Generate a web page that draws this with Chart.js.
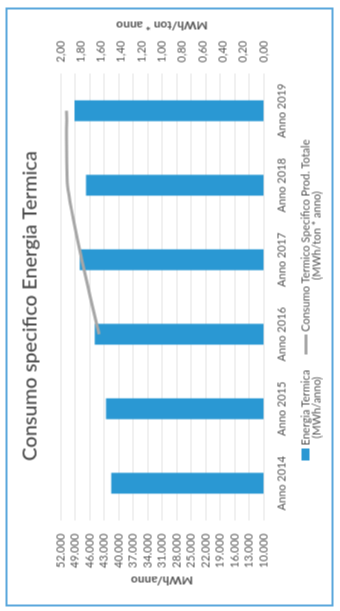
<!DOCTYPE html>
<html lang="it">
<head>
<meta charset="utf-8">
<title>Consumo specifico Energia Termica</title>
<script src="https://cdn.jsdelivr.net/npm/chart.js@4.4.0/dist/chart.umd.min.js"></script>
<style>
  html, body { margin: 0; padding: 0; background: #fff; }
  body { width: 340px; height: 611px; overflow: hidden; position: relative; }
  /* the sheet is laid out landscape and turned a quarter left */
  #sheet {
    position: absolute;
    left: -135.5px;
    top: 135.5px;
    width: 611px;
    height: 340px;
    transform: rotate(-90deg);
    font-family: Lato, sans-serif;
    color: #555;
  }
  #frame {
    position: absolute;
    left: 5px;
    top: 5px;
    width: 595px;
    height: 324px;
    border: 2px solid #5aa7dc;
  }
  #chartEnergia { position: absolute; left: 0; top: 0; }
  #legend {
    position: absolute;
    left: 6px;
    top: 300px;
    width: 611px;
    display: flex;
    justify-content: center;
    gap: 15px;
    font-size: 11px;
    line-height: 10.5px;
  }
  .item { display: flex; align-items: flex-start; }
  .item .txt { text-align: center; margin-left: 3px; }
  .box { width: 12px; height: 8px; margin-top: 1px; background: #2a98d3; }
  .stroke { width: 20px; height: 3px; margin-top: 4px; background: #a6a6a6; }
</style>
</head>
<body>
<div id="sheet">
  <div id="frame"></div>
  <canvas id="chartEnergia" width="611" height="300"></canvas>
  <div id="legend"></div>
</div>
<script>
const anni = ['Anno 2014', 'Anno 2015', 'Anno 2016', 'Anno 2017', 'Anno 2018', 'Anno 2019']
const energiaTermica = [41500, 42600, 44900, 48000, 46700, 49100]
const consumoSpecifico = [null, null, 1.62, 1.79, 1.93, 1.94]

const legendaEnergia = ['Energia Termica', '(MWh/anno)']
const legendaConsumo = ['Consumo Termico Specifico Prod. Totale', '(MWh/ton * anno)']

const energiaMin = 10000
const energiaMax = 52000
const energiaStep = 3000
const consumoMin = 0
const consumoMax = 2
const consumoStep = 0.2

const testo = '#555555'
const font = 'Lato'

/**
 * Format a number with a dot as thousands separator.
 *
 * @param {number} value - The value to format.
 * @returns {string} The formatted value.
 */
function migliaia (value) {
  return String(Math.round(value)).replace(/\B(?=(\d{3})+(?!\d))/g, '.')
}

// Chart.js turns right-side titles the other way, so this one is drawn here
const titoloDestro = {
  id: 'titoloDestro',
  afterDraw (chart) {
    const opts = chart.options.scales.y1.title
    const area = chart.chartArea
    const ctx = chart.ctx
    ctx.save()
    ctx.translate(586, (area.top + area.bottom) / 2)
    ctx.rotate(-Math.PI / 2)
    ctx.font = `bold ${opts.font.size}px ${font}`
    ctx.fillStyle = testo
    ctx.textAlign = 'center'
    ctx.textBaseline = 'middle'
    ctx.fillText(opts.text, 0, 0)
    ctx.restore()
  }
}

const ctx = document.getElementById('chartEnergia').getContext('2d')

new Chart(ctx, {
  type: 'bar',
  data: {
    labels: anni,
    datasets: [{
      label: legendaEnergia.join(' '),
      data: energiaTermica,
      backgroundColor: '#2a98d3',
      yAxisID: 'y',
      categoryPercentage: 1,
      barPercentage: 0.28,
      order: 2
    },
    {
      type: 'line',
      label: legendaConsumo.join(' '),
      data: consumoSpecifico,
      borderColor: '#a6a6a6',
      borderWidth: 3,
      pointRadius: 0,
      tension: 0.2,
      yAxisID: 'y1',
      order: 1
    }]
  },
  options: {
    responsive: false,
    animation: false,
    layout: { padding: 0 },
    scales: {
      x: {
        grid: { display: false, drawTicks: false },
        border: { display: false },
        ticks: {
          color: testo,
          padding: 12,
          font: { family: font, size: 11 }
        },
        afterFit (scale) { scale.height = 37 }
      },
      y: {
        position: 'left',
        min: energiaMin,
        max: energiaMax,
        grid: { color: '#e4e4e4', drawTicks: false },
        border: { display: false },
        ticks: {
          stepSize: energiaStep,
          autoSkip: false,
          color: testo,
          padding: 13,
          font: { family: font, size: 11 },
          callback: value => migliaia(value)
        },
        title: {
          display: true,
          text: 'MWh/anno',
          color: testo,
          padding: { top: 24 },
          font: { family: font, size: 12, weight: 'bold' }
        },
        afterFit (scale) { scale.width = 91 }
      },
      y1: {
        position: 'right',
        min: consumoMin,
        max: consumoMax,
        grid: { display: false, drawTicks: false },
        border: { display: false },
        ticks: {
          stepSize: consumoStep,
          autoSkip: false,
          color: testo,
          padding: 11,
          font: { family: font, size: 11 },
          callback: value => value.toFixed(2).replace('.', ',')
        },
        title: {
          display: false,
          text: 'MWh/ton * anno',
          font: { size: 12 }
        },
        afterFit (scale) { scale.width = 73 }
      }
    },
    plugins: {
      legend: { display: false },
      tooltip: { enabled: false },
      title: {
        display: true,
        text: 'Consumo specifico Energia Termica',
        color: '#4a4a4a',
        padding: { top: 18, bottom: 18 },
        font: { family: font, size: 20, weight: 500 }
      }
    }
  },
  plugins: [titoloDestro]
})

// Legend built from the two series names
const legend = document.getElementById('legend')
const voci = [
  { marker: 'box', righe: legendaEnergia },
  { marker: 'stroke', righe: legendaConsumo }
]
voci.forEach(voce => {
  const item = document.createElement('div')
  item.className = 'item'
  const marker = document.createElement('div')
  marker.className = voce.marker
  const txt = document.createElement('div')
  txt.className = 'txt'
  voce.righe.forEach(riga => {
    const line = document.createElement('div')
    line.textContent = riga
    txt.appendChild(line)
  })
  item.appendChild(marker)
  item.appendChild(txt)
  legend.appendChild(item)
})
</script>
</body>
</html>
